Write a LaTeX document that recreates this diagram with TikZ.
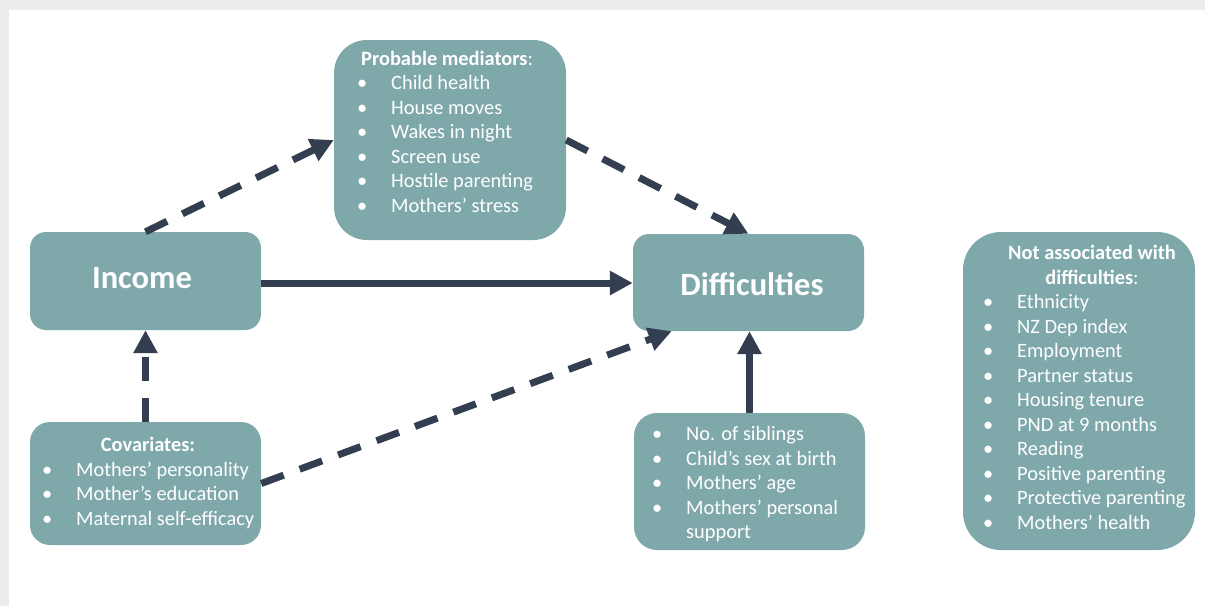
\documentclass[tikz,border=0pt]{standalone}
\usepackage{fontspec}
\setmainfont{Carlito}
\usetikzlibrary{arrows.meta,calc}
\definecolor{boxfill}{RGB}{127,168,171}
\definecolor{arrowc}{RGB}{51,63,80}
\definecolor{framegray}{RGB}{236,236,236}
\newcommand{\bul}{\llap{\textbullet\hspace{24pt}}}
\begin{document}
\begin{tikzpicture}[x=1pt,y=-1pt,
  box/.style={rectangle, fill=boxfill, draw=none, inner sep=0pt},
  txt/.style={inner sep=0pt, text=white, font=\fontsize{20.4pt}{24.5pt}\selectfont},
  item/.style={txt, anchor=base west},
  ttl/.style={txt, font=\fontsize{20.4pt}{24.5pt}\selectfont\bfseries},
  big/.style={inner sep=0pt, text=white, anchor=base, font=\fontsize{32.5pt}{38pt}\selectfont\bfseries},
  link/.style={draw=arrowc, line width=7pt, line cap=butt,
    -{Triangle[length=23pt,width=23pt]}},
  dlink/.style={link, dash pattern=on 24pt off 17pt}
]
% page frame
\useasboundingbox (0,0) rectangle (1205,606);
\fill[framegray] (0,0) rectangle (1205,606);
\fill[white] (9,10) rectangle (1205,606);

% boxes
\node[box, minimum width=232pt, minimum height=200pt, rounded corners=33pt] (med) at (450,140) {};
\node[box, minimum width=231pt, minimum height=98pt, rounded corners=16pt] (inc) at (145.5,281) {};
\node[box, minimum width=231pt, minimum height=97pt, rounded corners=16pt] (dif) at (748.5,282.5) {};
\node[box, minimum width=231pt, minimum height=123pt, rounded corners=20pt] (cov) at (145.5,483.5) {};
\node[box, minimum width=231pt, minimum height=137pt, rounded corners=23pt] (oth) at (749.5,481.5) {};
\node[box, minimum width=232pt, minimum height=318pt, rounded corners=38pt] (nas) at (1079,391) {};

% main labels
\node[big] (inclbl) at (142,288.5) {Income};
\node[big] (diflbl) at (752,295) {Difficulties};

% probable mediators
\node[ttl, anchor=base west] (medttl) at (361,65) {Probable mediators\mdseries:};
\foreach \t [count=\i] in {Child health, House moves, Wakes in night, Screen use, Hostile parenting, Mothers’ stress}
  \node[item] (med\i) at (391,{65+24.5*\i}) {\bul\t};

% covariates
\node[ttl, anchor=base] (covttl) at (148,451.5) {Covariates:};
\foreach \t [count=\i] in {Mothers’ personality, Mother’s education, Maternal self-efficacy}
  \node[item] (cov\i) at (76,{451.5+24.5*\i}) {\bul\t};

% other associated factors
\foreach \t [count=\i] in {No. of siblings, Child’s sex at birth, Mothers’ age, Mothers’ personal}
  \node[item] (oth\i) at (686,{416+24.5*\i}) {\bul\t};
\node[item] (oth5) at (686,{416+24.5*5}) {support};

% not associated
\node[ttl, anchor=base] (nasttl1) at (1092,259.5) {Not associated with};
\node[ttl, anchor=base] (nasttl2) at (1092,284) {difficulties\mdseries:};
\foreach \t [count=\i] in {Ethnicity, NZ Dep index, Employment, Partner status, Housing tenure, PND at 9 months, Reading, Positive parenting, Protective parenting, Mothers’ health}
  \node[item] (nas\i) at (1017,{284+24.5*\i}) {\bul\t};

% connectors
\coordinate (difin) at ($(dif.south west)!0.168!(dif.south east)$);
\draw[dlink] (inc.north) -- (med.west);
\draw[dlink] (med.east) -- (dif.north);
\draw[link] (inc.east |- 0,283) -- (dif.west |- 0,283);
\draw[dlink] (cov.north) -- (inc.south);
\draw[dlink] (cov.east) -- (difin);
\draw[link] (oth.north) -- (oth.north |- dif.south);
\end{tikzpicture}
\end{document}
